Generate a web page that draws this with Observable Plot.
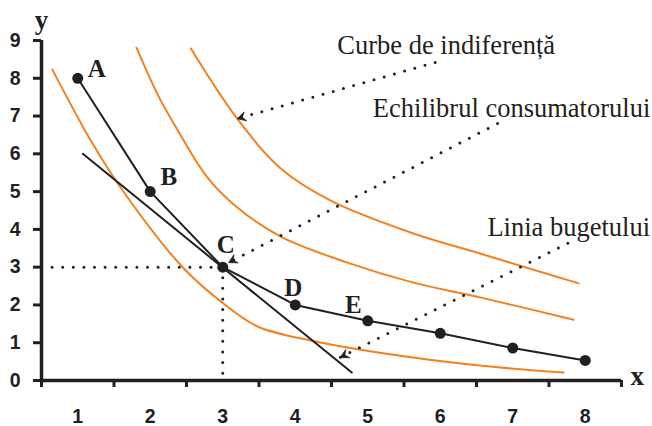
<!DOCTYPE html>
<html><head><meta charset="utf-8">
<script src="https://cdn.jsdelivr.net/npm/d3@7"></script>
<script src="https://cdn.jsdelivr.net/npm/@observablehq/plot@0.6"></script>
<style>body{margin:0;background:#fff} svg{display:block;overflow:visible}</style>
</head><body><div id="chart"></div>
<script>
// ---- data ----
const pointNames = ["A", "B", "C", "D", "E", "", "", ""];
const pointX = [1, 2, 3, 4, 5, 6, 7, 8];
const pointY = [8, 5, 3, 2, 1.58, 1.25, 0.86, 0.53];

const budgetX = [1.07, 4.78];
const budgetY = [6.0, 0.21];

const curve1X = [0.65, 1.18, 1.59, 2.46, 3.04, 3.48, 4.21, 6.14, 7.70];
const curve1Y = [8.23, 6.35, 5.11, 2.97, 1.99, 1.43, 1.06, 0.48, 0.21];
const curve2X = [1.81, 2.11, 2.38, 2.79, 3.20, 3.80, 4.72, 5.63, 6.55, 7.84];
const curve2Y = [8.81, 7.54, 6.62, 5.37, 4.58, 3.81, 3.12, 2.59, 2.20, 1.61];
const curve3X = [2.56, 3.20, 3.80, 4.49, 5.63, 6.55, 7.91];
const curve3Y = [8.79, 6.93, 5.61, 4.76, 3.89, 3.36, 2.57];

const equilibriumX = 3;
const equilibriumY = 3;

const annotationTexts = ["Curbe de indiferență", "Echilibrul consumatorului", "Linia bugetului"];
const annotationTextX = [4.58, 5.07, 6.65];
const annotationTextY = [8.88, 7.21, 4.06];
const annotationFromX = [5.93, 6.79, 7.76];
const annotationFromY = [8.42, 6.80, 3.63];
const annotationToX = [3.20, 3.08, 4.62];
const annotationToY = [6.93, 3.12, 0.61];

const xTickLabels = [1, 2, 3, 4, 5, 6, 7, 8];
const xTickMarks = [0.5, 1.5, 2.5, 3.5, 4.5, 5.5, 6.5, 7.5, 8.5];
const yTicks = [0, 1, 2, 3, 4, 5, 6, 7, 8, 9];
const xDomain = [0.5, 8.5];
const yDomain = [0, 9];

// ---- layout / style ----
const W = 652, H = 426;
const M = {left: 41, right: 31, top: 40, bottom: 46};
const INK = "#231f20";
const ORANGE = "#f4801f";
const SERIF = "'Liberation Serif', 'Times New Roman', serif";
const SANS = "'Liberation Sans', Arial, sans-serif";
const labelDx = [19, 18.5, 3, -2, -14.5];
const labelDy = [-9, -15, -22, -17, -15.5];

// ---- build tables ----
const toRows = (xs, ys) => xs.map((x, i) => ({x, y: ys[i]}));
const points = toRows(pointX, pointY).map((d, i) => ({...d, name: pointNames[i]}));
const budget = toRows(budgetX, budgetY);
const curves = [toRows(curve1X, curve1Y), toRows(curve2X, curve2Y), toRows(curve3X, curve3Y)];
const annotations = annotationTexts.map((t, i) => ({
  text: t, tx: annotationTextX[i], ty: annotationTextY[i],
  x1: annotationFromX[i], y1: annotationFromY[i], x2: annotationToX[i], y2: annotationToY[i]
}));

// pixels per data unit, to orient the arrowheads on screen
const kx = (W - M.left - M.right) / (xDomain[1] - xDomain[0]);
const ky = (H - M.top - M.bottom) / (yDomain[1] - yDomain[0]);
function barbSymbol(a) {
  const c = Math.cos(a), s = Math.sin(a);
  const r = ([px, py]) => [c * px - s * py, s * px + c * py];
  const pts = [[0, 0], [-8.5, -4.6], [-5.2, 0], [-8.5, 4.6]].map(r);
  return {draw(ctx) {
    ctx.moveTo(...pts[0]); ctx.lineTo(...pts[1]); ctx.lineTo(...pts[2]); ctx.lineTo(...pts[3]); ctx.closePath();
  }};
}

const dotted = {stroke: INK, strokeWidth: 3, strokeLinecap: "round", strokeDasharray: "0,10.6"};
const tickText = {fontFamily: SANS, fontWeight: "bold", fontSize: 19.5, fill: INK};

const marks = [
  ...curves.map(c => Plot.line(c, {x: "x", y: "y", stroke: ORANGE, strokeWidth: 2, curve: "catmull-rom"})),
  // guides to equilibrium
  Plot.link([{x1: xDomain[0], y1: equilibriumY, x2: equilibriumX, y2: equilibriumY}], {x1: "x1", y1: "y1", x2: "x2", y2: "y2", ...dotted}),
  Plot.link([{x1: equilibriumX, y1: equilibriumY, x2: equilibriumX, y2: yDomain[0]}], {x1: "x1", y1: "y1", x2: "x2", y2: "y2", ...dotted}),
  // budget line
  Plot.line(budget, {x: "x", y: "y", stroke: INK, strokeWidth: 2}),
  // consumption path
  Plot.line(points, {x: "x", y: "y", stroke: INK, strokeWidth: 2}),
  Plot.dot(points, {x: "x", y: "y", r: 5.5, fill: INK}),
  ...points.slice(0, 5).map((p, i) => Plot.text([p], {x: "x", y: "y", text: "name", dx: labelDx[i], dy: labelDy[i],
    fontFamily: SERIF, fontWeight: "bold", fontSize: 25, fill: INK})),
  // annotations
  Plot.link(annotations, {x1: "x1", y1: "y1", x2: "x2", y2: "y2", ...dotted}),
  ...annotations.map(d => {
    const a = Math.atan2(-(d.y2 - d.y1) * ky, (d.x2 - d.x1) * kx);
    return Plot.dot([d], {x: "x2", y: "y2", symbol: barbSymbol(a), fill: INK, stroke: INK, strokeWidth: 0.8});
  }),
  Plot.text(annotations, {x: "tx", y: "ty", text: "text", textAnchor: "start", fontFamily: SERIF, fontSize: 26.5, fill: INK}),
  // axes
  Plot.ruleX([xDomain[0]], {y1: yDomain[0], y2: yDomain[1], stroke: INK, strokeWidth: 3.5}),
  Plot.ruleY([yDomain[0]], {x1: xDomain[0], x2: xDomain[1], stroke: INK, strokeWidth: 3.5}),
  Plot.axisY(yTicks, {tickSize: 8, strokeWidth: 3, stroke: INK, tickFormat: () => "", label: null}),
  Plot.axisX(xTickMarks, {tickSize: 7, strokeWidth: 3, stroke: INK, tickFormat: () => "", label: null}),
  Plot.text(yTicks, {x: xDomain[0], y: d => d, text: d => String(d), dx: -21, textAnchor: "end", ...tickText}),
  Plot.text(xTickLabels, {x: d => d, y: yDomain[0], text: d => String(d), dy: 36, textAnchor: "middle", ...tickText}),
  Plot.text(["x"], {x: xDomain[1], y: yDomain[0], text: d => d, dx: 9, dy: -4, textAnchor: "start",
    fontFamily: SERIF, fontWeight: "bold", fontSize: 27, fill: INK}),
  Plot.text(["y"], {x: xDomain[0], y: yDomain[1], text: d => d, dy: -20, textAnchor: "middle",
    fontFamily: SERIF, fontWeight: "bold", fontSize: 27, fill: INK})
];

const chart = Plot.plot({
  width: W, height: H,
  marginLeft: M.left, marginRight: M.right, marginTop: M.top, marginBottom: M.bottom,
  x: {domain: xDomain, axis: null},
  y: {domain: yDomain, axis: null},
  style: {background: "#fff", overflow: "visible"},
  marks
});
document.getElementById("chart").appendChild(chart);
</script>
</body></html>
